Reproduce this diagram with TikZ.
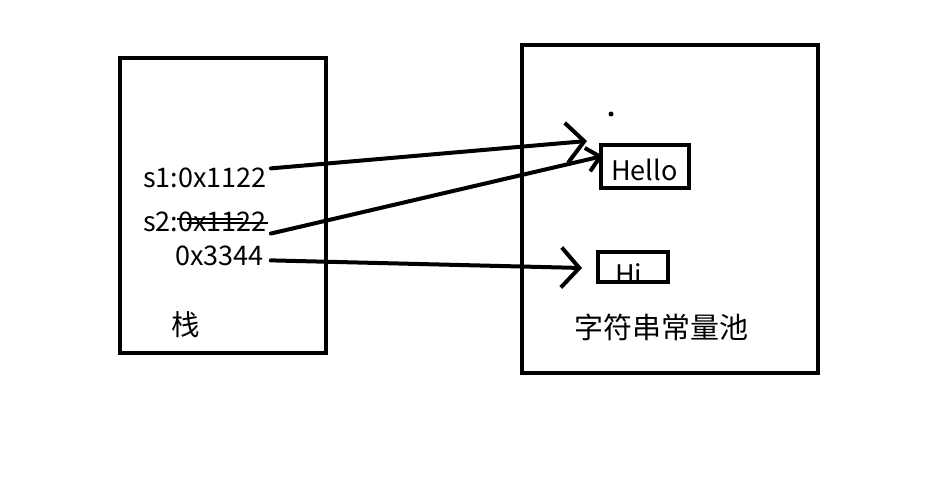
\documentclass[tikz,border=0pt]{standalone}
\usepackage{fontspec}
\setmainfont{Noto Sans CJK SC}
\usetikzlibrary{arrows.meta}

\begin{document}
\begin{tikzpicture}[x=1pt,y=-1pt,>={Straight Barb[length=18pt,width=40pt]}]
  \tikzstyle{frame}=[draw,line width=4pt,inner sep=0pt]
  \tikzstyle{cell}=[draw,line width=3.5pt,inner sep=0pt]
  \tikzstyle{word}=[font=\fontsize{27}{30}\selectfont,inner sep=0pt]
  \tikzstyle{pointer}=[->,line width=4pt,line cap=round]
  \useasboundingbox (0,0) rectangle (936,481);
    \node [frame,minimum width=206pt,minimum height=295pt] (stack) at (223,205.5) {};
    \node [frame,minimum width=296pt,minimum height=328pt] (pool) at (670,209) {};
    \node [word,anchor=base west] (s1) at (143,188) {s1:0x1122};
    \node [word,anchor=base west] (s2) at (143,231) {s2:0x1122};
    \node [word,anchor=base west] (s3) at (175,265) {0x3344};
    \node [word,font=\fontsize{28.5}{30}\selectfont] (stackname) at (186,325) {栈};
    \node [word,font=\fontsize{29}{30}\selectfont] (poolname) at (661,327) {字符串常量池};
    \node [word,anchor=base west] (hello) at (611,181) {Hello};
    \node [word,anchor=base west] (hi) at (615,284) {Hi};
    \node [cell,minimum width=88pt,minimum height=43pt] (hellobox) at (645,166.5) {};
    \node [cell,minimum width=70pt,minimum height=30pt] (hibox) at (633,267) {};
    % crossed out old address
    \draw [line width=1.3pt] (177,219) -- (243,219);
    \draw [line width=1.3pt] (187,223) -- (268,223);
    \fill (611,114) circle (2.5pt);
    \coordinate (tip1) at (587,141);
    \coordinate (tip2) at (603,156);
    \coordinate (tip3) at (582,268);
    \draw [pointer] ([xshift=4pt,yshift=10pt]s1.east) -- (tip1);
    \draw [pointer,-{Straight Barb[length=13pt,width=24pt]}] ([xshift=4pt,yshift=-2pt]s2.south east) -- (tip2);
    \draw [pointer] ([xshift=7pt,yshift=-5pt]s3.east) -- (tip3);
\end{tikzpicture}
\end{document}
